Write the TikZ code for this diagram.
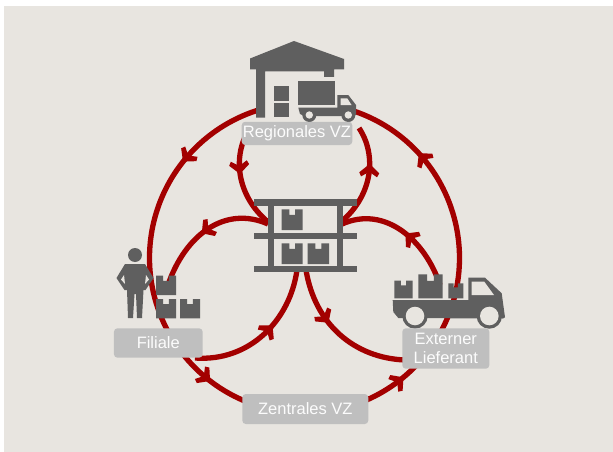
\documentclass[tikz,border=0pt]{standalone}
\usepackage{fontspec}
\setmainfont{Liberation Sans}
\usetikzlibrary{decorations.markings}
\definecolor{bgc}{HTML}{E8E5E0}
\definecolor{flow}{HTML}{A30000}
\definecolor{icon}{HTML}{5F5F5F}
\definecolor{lab}{HTML}{BFBFBF}
\newcommand{\crate}[4]{% x0 y0 x1 y1
  \fill[icon] (#1,#2) -- ({#1+0.36*(#3-#1)},#2) -- ({#1+0.36*(#3-#1)},{#2+0.27*(#4-#2)}) -- ({#1+0.64*(#3-#1)},{#2+0.27*(#4-#2)}) -- ({#1+0.64*(#3-#1)},#2) -- (#3,#2) -- (#3,#4) -- (#1,#4) -- cycle;}
\tikzset{
  flowline/.style={draw=flow,line width=5.3pt},
  arrowat/.style={postaction={decorate},decoration={markings,mark=at position #1 with {\fill[flow] (4,0)--(-5,10)--(-9,8)--(-4,0)--(-9,-8)--(-5,-10)--cycle;}}},
  tag/.style={fill=lab,rounded corners=3.5pt,text=white!95!lab,inner sep=0pt,font=\fontsize{16.5}{19.5}\selectfont,align=center},
  iconfill/.style={fill=icon},
  hole/.style={fill=bgc}
}
\begin{document}
\begin{tikzpicture}[x=1pt,y=-1pt]
\useasboundingbox (0,0) rectangle (613,452);
\fill[white] (0,0) rectangle (613,452);
\fill[bgc] (4,6) rectangle (613,452);
% anchors
\coordinate (c) at (304.5,258);
\path (c) ++(252:155) coordinate (regW);
\path (c) ++(145:155) coordinate (filS);
\path (c) ++(95:155) coordinate (zenT);
\path (c) ++(35:155) coordinate (lieB);
\coordinate (regLi) at (250,128);
\coordinate (regRi) at (359,128);
\coordinate (rackTL) at (268,222);
\coordinate (rackTR) at (341,222);
\coordinate (rackL) at (268,224);
\coordinate (rackR) at (342,224);
\coordinate (rackBL) at (297,270);
\coordinate (rackBR) at (306,270);
\coordinate (filTop) at (168,285);
\coordinate (filR) at (195,358);
\coordinate (lieL) at (405,360);
\coordinate (lieTop) at (440,285);
% big circle
\draw[flowline,arrowat=0.3] (regW) arc[start angle=252,end angle=145,radius=155];
\draw[flowline,arrowat=0.32] (filS) arc[start angle=145,end angle=95,radius=155];
\draw[flowline,arrowat=0.72] (zenT) arc[start angle=95,end angle=35,radius=155];
\draw[flowline,arrowat=0.71] (lieB) arc[start angle=35,end angle=-72,radius=155];
% inner arcs
\draw[flowline,arrowat=0.42] (regLi) .. controls (232,155) and (236,195) .. (rackTL);
\draw[flowline,arrowat=0.6] (rackTR) .. controls (373,195) and (377,155) .. (regRi);
\draw[flowline,arrowat=0.5] (rackL) .. controls (225,205) and (185,235) .. (filTop);
\draw[flowline,arrowat=0.56] (filR) .. controls (250,362) and (290,320) .. (rackBL);
\draw[flowline,arrowat=0.37] (rackBR) .. controls (315,325) and (355,358) .. (lieL);
\draw[flowline,arrowat=0.45] (lieTop) .. controls (425,240) and (385,205) .. (rackR);
% warehouse
\fill[iconfill] (250,58.5)--(294,41)--(344,59)--(344,69.5)--(334,69.5)--(334,77)--(324,77)--(324,71.5)--(265,71.5)--(265,117.5)--(256,117.5)--(256,69.5)--(250,69.5)--cycle;
\fill[iconfill] (274.3,86) rectangle (289.3,101);
\fill[iconfill] (274.3,102.7) rectangle (289.3,117.3);
\fill[iconfill] (298.3,81) rectangle (335,105);
\fill[iconfill] (298.3,107.7)--(337.3,107.7)--(337.3,95)--(348.3,95)--(356,105)--(356,115)--(352,116)--(304,116)--(300,114)--cycle;
\fill[hole] (340.7,98.3)--(347.3,98.3)--(351.5,105)--(340.7,105)--cycle;
\fill[iconfill] (309.3,115) circle (7);
\fill[hole] (309.3,115) circle (3.7);
\fill[iconfill] (348.3,115) circle (7);
\fill[hole] (348.3,115) circle (3.7);
% rack
\fill[iconfill] (254.3,199.3) rectangle (357.3,206);
\fill[iconfill] (254.3,233.3) rectangle (357.3,239.3);
\fill[iconfill] (254.3,266) rectangle (357.3,272.3);
\fill[iconfill] (268.3,206) rectangle (274.3,266);
\fill[iconfill] (337.3,206) rectangle (343.3,266);
\crate{281.7}{209.3}{302.7}{230}
\crate{281.7}{243.3}{302.7}{264}
\crate{307.7}{243.3}{329}{264}
% person
\fill[iconfill] (135,255) circle (7);
\fill[iconfill] (125,264)--(145,264)--(153.5,278)--(145.5,290)--(143.5,290)--(142,318)--(137,318)--(136,294)--(134.5,294)--(133,318)--(128,318)--(127,290)--(124.5,290)--(116.5,278)--cycle;
\fill[hole] (124,275)--(121,279.5)--(125,284)--cycle;
\fill[hole] (146,275)--(149,279.5)--(145,284)--cycle;
\crate{156}{275.7}{176}{295}
\crate{156}{299}{176}{318.3}
\crate{180}{299}{200}{318.3}
% supplier truck
\crate{394.3}{280.7}{412.7}{298.3}
\crate{418.3}{274.3}{442.7}{298.3}
\crate{448.3}{283.3}{463.3}{298.3}
\fill[iconfill] (392.7,300)--(468.3,300)--(468.3,277.7)--(485,277.7)--(501.7,293.3)--(505,317.3)--(503,318.5)--(398.3,318)--(393.3,312)--cycle;
\fill[hole] (471.7,281.7)--(484.3,281.7)--(494,295)--(471.7,295)--cycle;
\fill[iconfill] (415,316) circle (12.7);
\fill[hole] (415,316) circle (9.3);
\fill[iconfill] (489.3,316) circle (12.7);
\fill[hole] (489.3,316) circle (9.3);
% labels
\node[tag,minimum width=110.6pt,minimum height=23.3pt] (reg) at (297,133.4) {Regionales VZ};
\node[tag,minimum width=88.7pt,minimum height=29.4pt] (fil) at (158.3,343) {Filiale};
\node[tag,minimum width=87pt,minimum height=40.4pt] (lie) at (445.8,348.5) {Externer\\Lieferant};
\node[tag,minimum width=126pt,minimum height=30pt] (zen) at (305.3,409) {Zentrales VZ};
\end{tikzpicture}
\end{document}
